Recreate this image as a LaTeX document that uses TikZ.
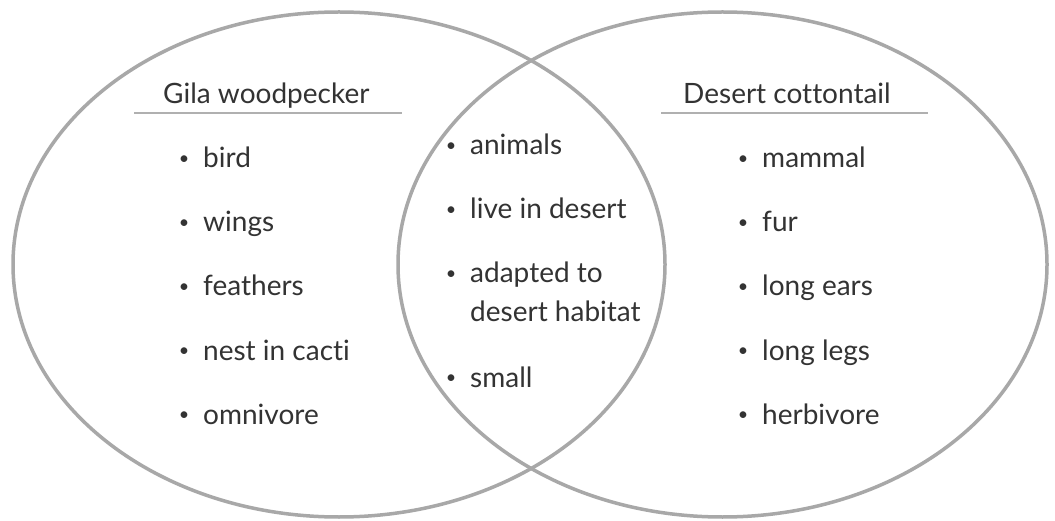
\documentclass[tikz,border=0pt]{standalone}
\usepackage{fontspec}
\setmainfont{Lato}[Ligatures=NoCommon]
\definecolor{ringgray}{HTML}{A8A8A8}
\definecolor{rulegray}{HTML}{B0B0B0}
\definecolor{txtgray}{HTML}{333333}
\tikzset{
  ring/.style={draw=ringgray, line width=3.5pt},
  ttl/.style={anchor=base west, inner sep=0pt, font=\fontsize{28}{34}\selectfont, text=txtgray},
  itm/.style={anchor=base west, inner sep=0pt, font=\fontsize{28}{34}\selectfont, text=txtgray},
  uline/.style={draw=rulegray, line width=2.5pt},
}
\newcommand{\bul}{\llap{\raisebox{3.5pt}{\fontsize{18}{18}\selectfont\textbullet}\hspace{14pt}}}
\begin{document}
\begin{tikzpicture}[x=1pt,y=-1pt]
\useasboundingbox (0,0) rectangle (1055,521);
\fill[white] (0,0) rectangle (1055,521);
\draw[ring] (339,264.5) ellipse [x radius=326, y radius=252.5];
\draw[ring] (722.5,264.5) ellipse [x radius=324.5, y radius=252.5];
% titles
\node[ttl] (tl) at (163,104) {Gila woodpecker};
\node[ttl] (tr) at (683,104) {Desert cottontail};
\coordinate (ul1) at (134,113); \coordinate (ul2) at (402,113);
\coordinate (ur1) at (661,113); \coordinate (ur2) at (928,113);
\draw[uline] (ul1) -- (ul2);
\draw[uline] (ur1) -- (ur2);
% left
\node[itm] (l1) at (203,168) {\bul bird};
\node[itm] (l2) at (203,232) {\bul wings};
\node[itm] (l3) at (203,296) {\bul feathers};
\node[itm] (l4) at (203,360) {\bul nest in cacti};
\node[itm] (l5) at (203,424) {\bul omnivore};
% middle
\node[itm] (m1) at (470,155) {\bul animals};
\node[itm] (m2) at (470,219) {\bul live in desert};
\node[itm] (m3) at (470,283) {\bul adapted to};
\node[itm] (m3b) at (470,322) {desert habitat};
\node[itm] (m4) at (470,387) {\bul small};
% right
\node[itm] (r1) at (762,168) {\bul mammal};
\node[itm] (r2) at (762,232) {\bul fur};
\node[itm] (r3) at (762,296) {\bul long ears};
\node[itm] (r4) at (762,360) {\bul long legs};
\node[itm] (r5) at (762,424) {\bul herbivore};
\end{tikzpicture}
\end{document}
